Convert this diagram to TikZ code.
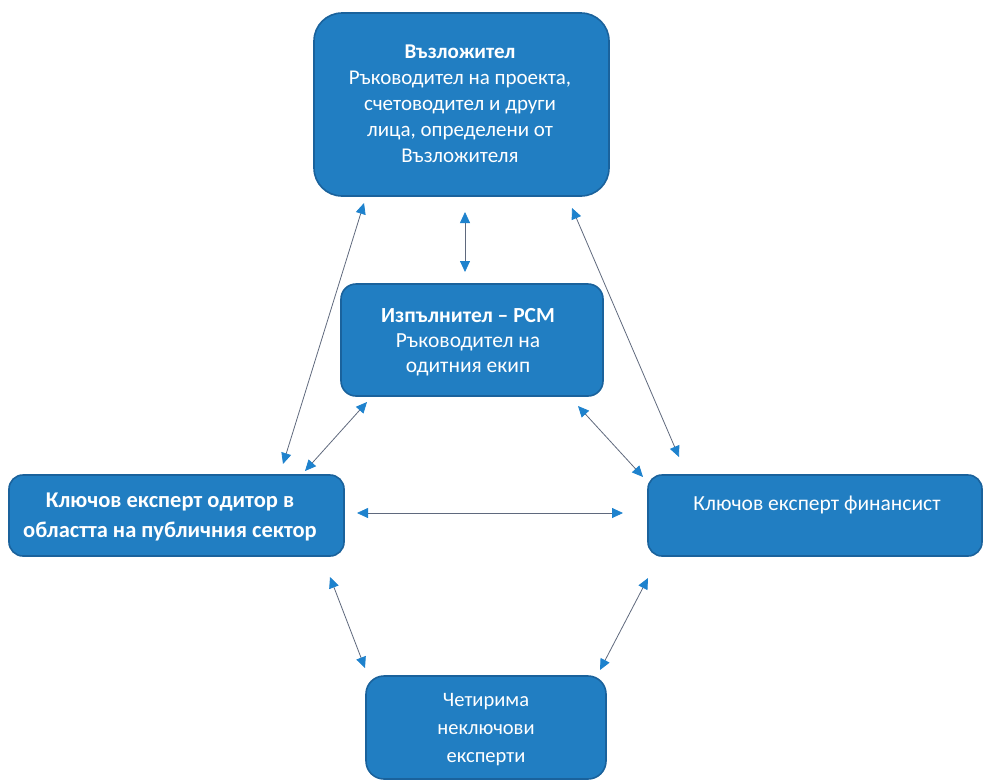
\documentclass[tikz,border=0pt]{standalone}
\usepackage{fontspec}
\setmainfont{Carlito}
\usetikzlibrary{arrows.meta}
\definecolor{boxfill}{RGB}{33,126,194}
\definecolor{boxline}{RGB}{26,98,156}
\definecolor{tipblue}{RGB}{30,130,205}
\definecolor{linegray}{RGB}{95,105,125}
\tikzset{
  rbox/.style={draw=boxline, line width=1.6pt, fill=boxfill, inner sep=0pt},
  btext/.style={text=white, align=center, inner sep=0pt},
  link/.style={draw=linegray, line width=0.8pt,
    {Triangle[length=11pt,width=10pt,color=tipblue]}-{Triangle[length=11pt,width=10pt,color=tipblue]}}
}
\begin{document}
\begin{tikzpicture}[x=1pt,y=-1pt]
\useasboundingbox (0,0) rectangle (984,782);
\node[rbox, minimum width=295pt, minimum height=183pt, rounded corners=28pt] (top) at (461.5,104.5) {};
\node[btext, font=\fontsize{21}{26}\selectfont] (toptext) at (460,104) {\textbf{Възложител}\\Ръководител на проекта,\\счетоводител и други\\лица, определени от\\Възложителя};
\node[rbox, minimum width=262pt, minimum height=112pt, rounded corners=15pt] (mid) at (472,340) {};
\node[btext, font=\fontsize{21.5}{25}\selectfont] (midtext) at (468,342) {\textbf{Изпълнител – РСМ}\\Ръководител на\\одитния екип};
\node[rbox, minimum width=335pt, minimum height=81pt, rounded corners=14pt] (left) at (176.5,515.5) {};
\node[btext, font=\fontsize{22.5}{30}\selectfont] (lefttext) at (170,517) {\textbf{Ключов експерт одитор в}\\\textbf{областта на публичния сектор}};
\node[rbox, minimum width=334pt, minimum height=81pt, rounded corners=14pt] (right) at (815,515.5) {};
\node[btext, font=\fontsize{21.5}{26}\selectfont] (righttext) at (817,505) {Ключов експерт финансист};
\node[rbox, minimum width=240pt, minimum height=103pt, rounded corners=18pt] (bot) at (486,727.5) {};
\node[btext, font=\fontsize{20.5}{28}\selectfont] (bottext) at (486,730) {Четирима\\неключови\\експерти};
\coordinate (a1) at (465,212); \coordinate (a2) at (465,272);
\coordinate (b1) at (364,203); \coordinate (b2) at (283,464);
\coordinate (c1) at (572,208); \coordinate (c2) at (679,457);
\coordinate (d1) at (367,402); \coordinate (d2) at (305,471);
\coordinate (e1) at (578,406); \coordinate (e2) at (643,477);
\coordinate (f1) at (357,513); \coordinate (f2) at (623,513);
\coordinate (g1) at (330,577); \coordinate (g2) at (365,668);
\coordinate (h1) at (648,578); \coordinate (h2) at (600,670);
\draw[link] (a1) -- (a2);
\draw[link] (b1) -- (b2);
\draw[link] (c1) -- (c2);
\draw[link] (d1) -- (d2);
\draw[link] (e1) -- (e2);
\draw[link] (f1) -- (f2);
\draw[link] (g1) -- (g2);
\draw[link] (h1) -- (h2);
\end{tikzpicture}
\end{document}
